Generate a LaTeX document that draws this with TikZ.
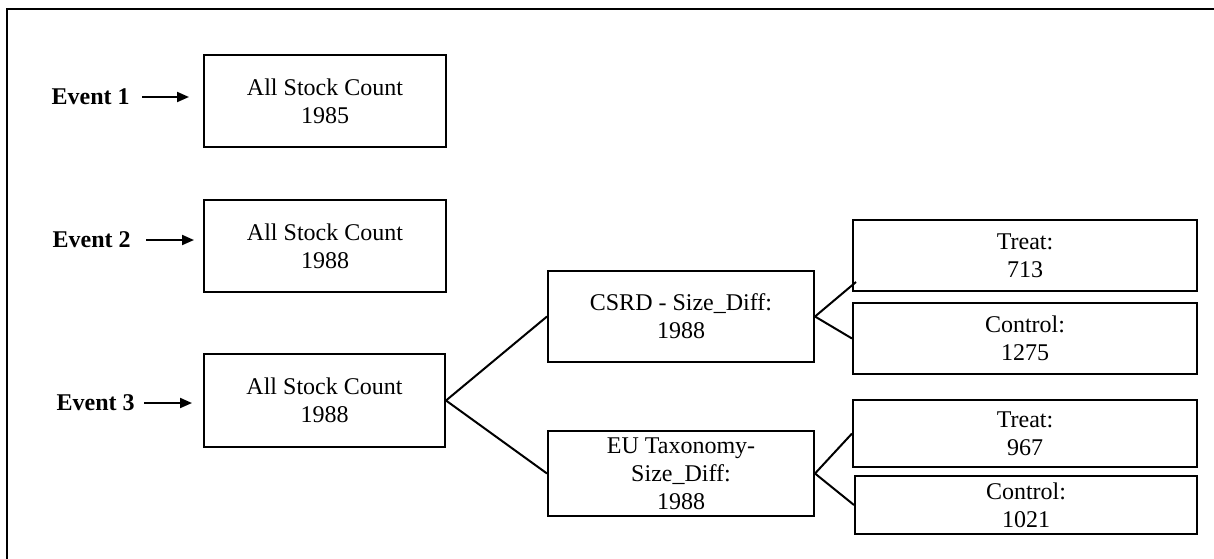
\documentclass[tikz,border=0pt]{standalone}
\usepackage{fontspec}
\setmainfont{Liberation Serif}
\usetikzlibrary{arrows.meta,calc}
\tikzset{
  box/.style={draw=black, line width=1pt, rectangle, inner sep=0pt, align=center,
    font=\fontsize{12}{14}\selectfont},
  evlabel/.style={inner sep=0pt, anchor=east, font=\fontsize{12}{14}\selectfont\bfseries},
  arr/.style={line width=1pt, -{Triangle[length=6pt,width=5pt]}},
  fork/.style={line width=1pt},
  frame/.style={line width=1.1pt, draw=black}
}
\begin{document}
\begin{tikzpicture}[x=0.5pt,y=-0.5pt]
\useasboundingbox (0,0) rectangle (1214,558);
\draw[frame] (7,560) -- (7,9) -- (1216,9);

% left column boxes
\node[box, minimum width=121pt, minimum height=46pt] (b1) at (325,101) {All Stock Count\\1985};
\node[box, minimum width=121pt, minimum height=46pt] (b2) at (325,246) {All Stock Count\\1988};
\node[box, minimum width=120.5pt, minimum height=46.5pt] (b3) at (324.5,400.5) {All Stock Count\\1988};

% event labels
\node[evlabel] (e1) at (130,97) {Event 1};
\node[evlabel] (e2) at (131,240) {Event 2};
\node[evlabel] (e3) at (135,403) {Event 3};
\draw[arr] ([xshift=6pt]e1.east) -- ++(47,0);
\draw[arr] ([xshift=7.5pt]e2.east) -- ++(48,0);
\draw[arr] ([xshift=4.5pt]e3.east) -- ++(48,0);

% middle boxes
\node[box, minimum width=133pt, minimum height=45.5pt] (csrd) at (681,316.5) {CSRD - Size\_Diff:\\1988};
\node[box, minimum width=133pt, minimum height=42.5pt] (eu) at (681,473.5) {EU Taxonomy-\\Size\_Diff:\\1988};

% right boxes
\node[box, minimum width=172pt, minimum height=35.5pt] (t1) at (1025,255.5) {Treat:\\713};
\node[box, minimum width=172pt, minimum height=35.5pt] (c1) at (1025,338.5) {Control:\\1275};
\node[box, minimum width=172pt, minimum height=33.5pt] (t2) at (1025,433.5) {Treat:\\967};
\node[box, minimum width=171pt, minimum height=29pt] (c2) at (1026,505) {Control:\\1021};

% connectors
\draw[fork] (b3.east) -- (csrd.west);
\draw[fork] (b3.east) -- (eu.west);
\coordinate (t1in) at ($(t1.south west)+(4,-10)$);
\draw[fork] (csrd.east) -- (t1in);
\draw[fork] (csrd.east) -- (c1.west);
\draw[fork] (eu.east) -- (t2.west);
\draw[fork] (eu.east) -- (c2.west);
\end{tikzpicture}
\end{document}
